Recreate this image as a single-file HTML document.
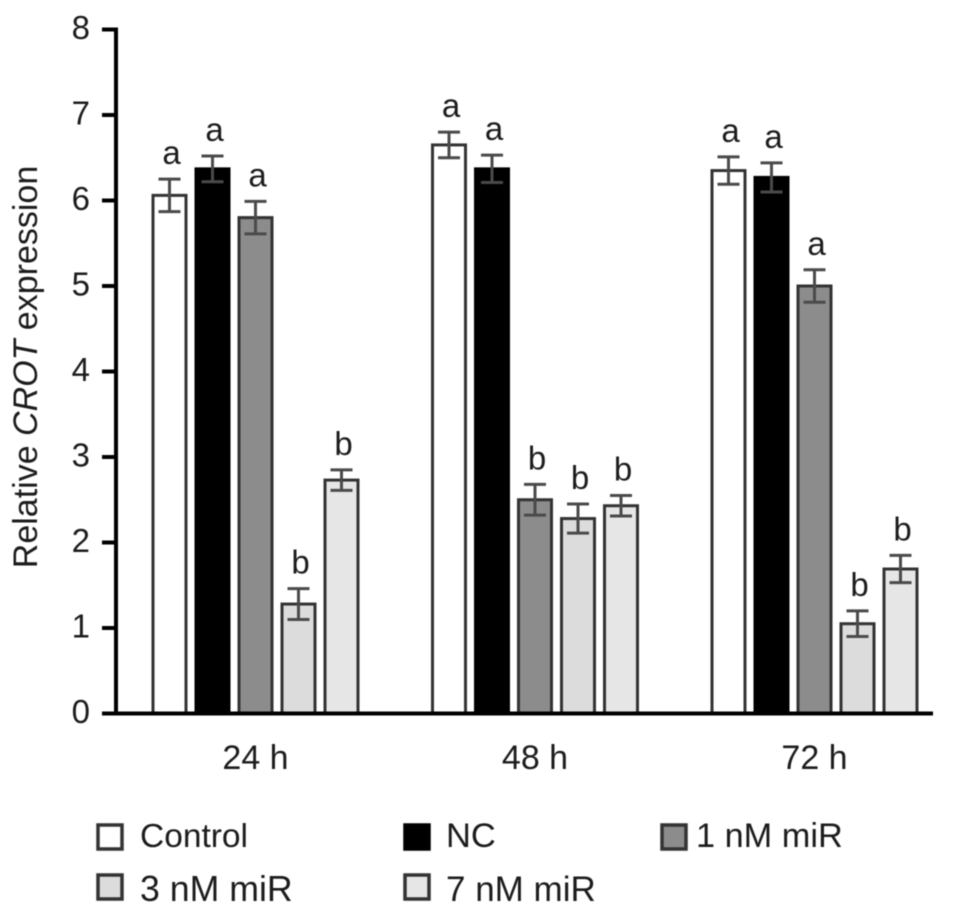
<!DOCTYPE html>
<html>
<head>
<meta charset="utf-8">
<title>Relative CROT expression</title>
<style>
html,body{margin:0;padding:0;background:#fff;width:969px;height:917px;overflow:hidden}
svg{display:block;filter:blur(0.5px)}
text{font-family:"Liberation Sans",sans-serif;fill:#1c1c1c}
</style>
</head>
<body>
<svg id="chart" xmlns="http://www.w3.org/2000/svg" width="969" height="917" viewBox="0 0 969 917"></svg>
<script>
const timepoints = ['24 h', '48 h', '72 h'];
const seriesNames = ['Control', 'NC', '1 nM miR', '3 nM miR', '7 nM miR'];
const controlValues = [6.06, 6.65, 6.35];
const ncValues = [6.37, 6.37, 6.27];
const nm1Values = [5.80, 2.50, 5.00];
const nm3Values = [1.28, 2.28, 1.05];
const nm7Values = [2.73, 2.43, 1.69];
const controlErrors = [0.19, 0.15, 0.16];
const ncErrors = [0.15, 0.16, 0.17];
const nm1Errors = [0.19, 0.18, 0.19];
const nm3Errors = [0.18, 0.17, 0.15];
const nm7Errors = [0.12, 0.12, 0.16];
const controlLetters = ['a', 'a', 'a'];
const ncLetters = ['a', 'a', 'a'];
const nm1Letters = ['a', 'b', 'a'];
const nm3Letters = ['b', 'b', 'b'];
const nm7Letters = ['b', 'b', 'b'];
const yTicks = [0, 1, 2, 3, 4, 5, 6, 7, 8];

const svg = document.getElementById('chart');
const NS = 'http://www.w3.org/2000/svg';
const allValues = [controlValues, ncValues, nm1Values, nm3Values, nm7Values];
const allErrors = [controlErrors, ncErrors, nm1Errors, nm3Errors, nm7Errors];
const allLetters = [controlLetters, ncLetters, nm1Letters, nm3Letters, nm7Letters];
const fills = ['#ffffff', '#000000', '#8c8c8c', '#dcdcdc', '#e6e6e6'];

function yScale(v) { return 713.5 - v * 85.5; }
function groupCenter(g) { return 255.5 + g * 279.5; }
function barCenter(g, s) { return groupCenter(g) + (s - 2) * 43; }

function make(tag, attrs, parent) {
  const el = document.createElementNS(NS, tag);
  for (const k in attrs) el.setAttribute(k, attrs[k]);
  (parent || svg).appendChild(el);
  return el;
}

// bars, error bars, significance letters
timepoints.forEach(function (tp, g) {
  seriesNames.forEach(function (name, s) {
    const v = allValues[s][g];
    const e = allErrors[s][g];
    const cx = barCenter(g, s);
    const group = make('g', {});
    
    
    const bar = make('rect', { x: cx - 16.5, y: yScale(v), width: 33, height: yScale(0) - yScale(v), fill: fills[s], stroke: s === 1 ? '#000' : '#333', 'stroke-width': 3 }, group);
    
    
    const err = make('path', {
      d: 'M' + cx + ' ' + yScale(v + e) + 'V' + yScale(v - e) +
         'M' + (cx - 11) + ' ' + yScale(v + e) + 'H' + (cx + 11) +
         'M' + (cx - 11) + ' ' + yScale(v - e) + 'H' + (cx + 11),
      fill: 'none', stroke: '#4a4a4a', 'stroke-width': 3
    }, group);
    
    
    const letter = make('text', { x: cx + 2, y: yScale(v + e) - 15, 'text-anchor': 'middle', 'font-size': 33 }, group);
    letter.textContent = allLetters[s][g];
    
    
  });
  const label = make('text', { x: groupCenter(g), y: 769, 'text-anchor': 'middle', 'font-size': 34 });
  label.textContent = tp;
  
  
});

// axes
const yAxis = make('line', { x1: 116, x2: 116, y1: yScale(8) - 2, y2: yScale(0) + 2, stroke: '#000', 'stroke-width': 4 });


const xAxis = make('line', { x1: 102, x2: 933, y1: yScale(0), y2: yScale(0), stroke: '#000', 'stroke-width': 4 });



yTicks.forEach(function (t) {
  const tick = make('line', { x1: 102, x2: 116, y1: yScale(t), y2: yScale(t), stroke: '#000', 'stroke-width': 4 });
  
  
  const label = make('text', { x: 90, y: yScale(t) + 9.5, 'text-anchor': 'end', 'font-size': 33 });
  label.textContent = t;
  
  
});

// y-axis title
const title = make('text', { transform: 'translate(37 367) rotate(-90)', 'text-anchor': 'middle', 'font-size': 34 });


title.appendChild(document.createTextNode('Relative '));
const italic = make('tspan', { 'font-style': 'italic' }, title);
italic.textContent = 'CROT';
title.appendChild(document.createTextNode(' expression'));

// legend
const legendColumn = [0, 1, 2, 0, 1];
const legendRow = [0, 0, 0, 1, 1];
const swatchX = [97, 404, 661];
const textX = [140, 446, 696];
const legendFontSizes = [33.5, 34.5, 34.3, 35.7, 35];
seriesNames.forEach(function (name, s) {
  const c = legendColumn[s];
  const r = legendRow[s];
  const swatchY = r === 0 ? 825 : 875;
  const entry = make('g', {});
  
  
  const swatch = make('rect', { x: swatchX[c] + 1, y: swatchY, width: 24, height: 24, fill: fills[s], stroke: s === 1 ? '#000' : '#333', 'stroke-width': 3.5 }, entry);
  
  
  const label = make('text', { x: textX[c], y: r === 0 ? 847 : 901, 'font-size': legendFontSizes[s] }, entry);
  label.textContent = name;
  
  
});
</script>
</body>
</html>
